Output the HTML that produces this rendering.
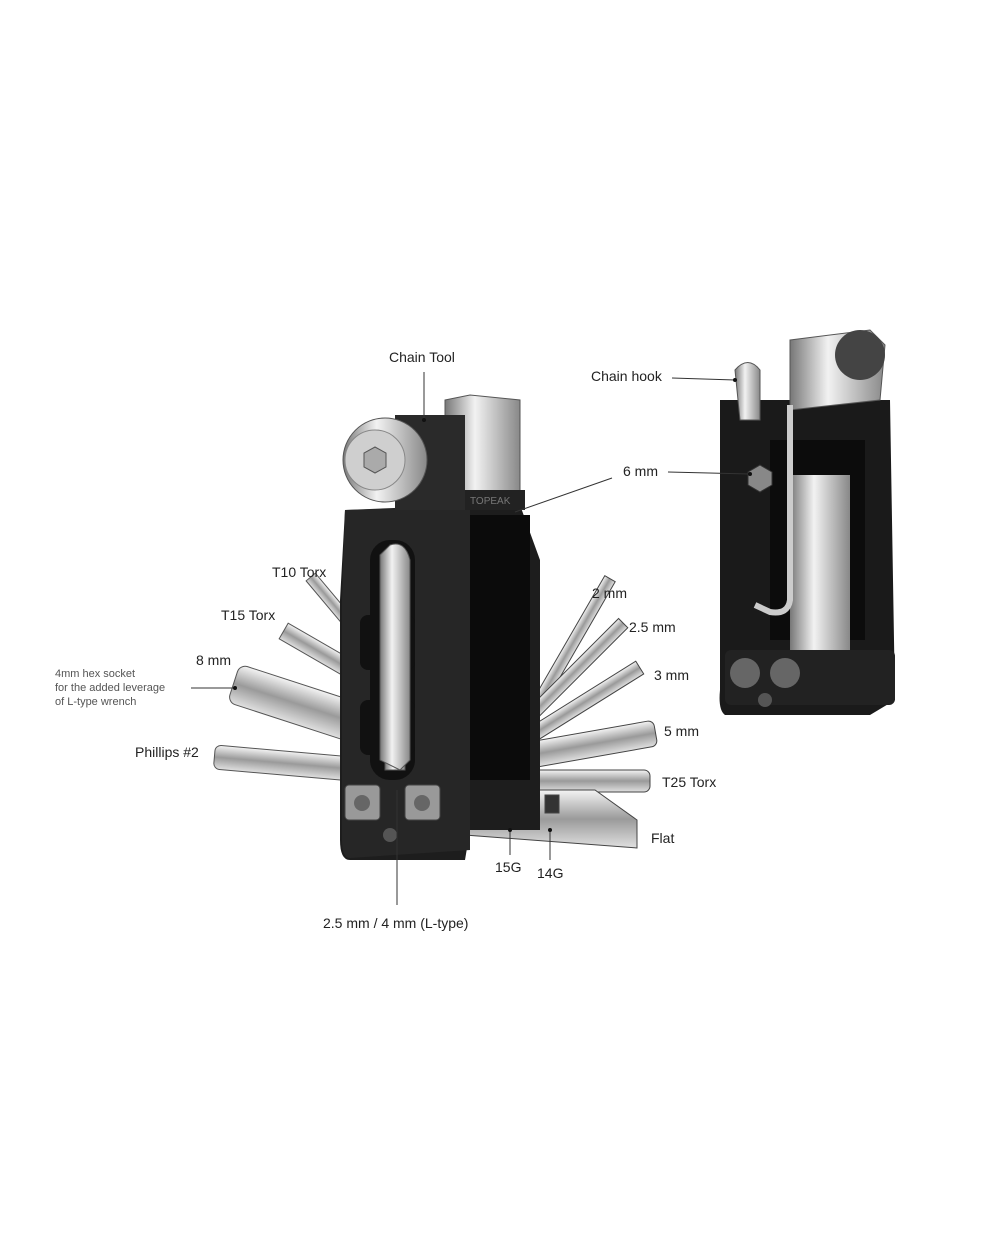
<!DOCTYPE html>
<html><head><meta charset="utf-8"><style>
html,body{margin:0;padding:0;background:#fff;}
svg{display:block}
text{font-family:"Liberation Sans",sans-serif;font-size:14px;fill:#222}
.s{font-size:11px;fill:#555}
</style></head><body>
<svg width="1000" height="1250" viewBox="0 0 1000 1250" xmlns="http://www.w3.org/2000/svg">
<defs>
<linearGradient id="m" x1="0" y1="0" x2="0" y2="1"><stop offset="0" stop-color="#f4f4f4"/><stop offset=".5" stop-color="#9a9a9a"/><stop offset="1" stop-color="#e0e0e0"/></linearGradient>
<linearGradient id="mh" x1="0" y1="0" x2="1" y2="0"><stop offset="0" stop-color="#777"/><stop offset=".4" stop-color="#f2f2f2"/><stop offset="1" stop-color="#888"/></linearGradient>
</defs>
<!-- left fan tools -->
<g stroke="#555" stroke-width="1">
<rect x="300" y="594" width="60" height="12" fill="url(#m)" transform="rotate(50 330 600)"/>
<rect x="285" y="625" width="85" height="18" fill="url(#m)" transform="rotate(30 290 630)"/>
<rect x="235" y="665" width="130" height="40" rx="8" fill="url(#m)" transform="rotate(18 240 680)"/>
<rect x="215" y="745" width="135" height="24" rx="6" fill="url(#m)" transform="rotate(5 215 750)"/>
</g>
<!-- right fan tools -->
<g stroke="#444" stroke-width="1">
<rect x="470" y="590" width="150" height="12" fill="url(#m)" transform="rotate(-60 600 596)"/>
<rect x="475" y="620" width="150" height="13" fill="url(#m)" transform="rotate(-45 620 627)"/>
<rect x="480" y="660" width="160" height="15" fill="url(#m)" transform="rotate(-32 640 668)"/>
<rect x="470" y="720" width="185" height="26" rx="6" fill="url(#m)" transform="rotate(-10 655 730)"/>
<rect x="470" y="770" width="180" height="22" rx="6" fill="url(#m)"/>
<path d="M465 790 L595 790 L637 820 L637 848 L465 835 Z" fill="url(#m)"/>
<rect x="505" y="793" width="14" height="18" fill="#333"/>
<rect x="545" y="795" width="14" height="18" fill="#333"/>
</g>
<!-- main body -->
<path d="M345 510 L520 505 L540 560 L540 830 L470 830 L465 860 L350 860 Q340 860 340 840 L340 600 Z" fill="#1d1d1d"/>
<rect x="410" y="515" width="120" height="265" fill="#0b0b0b"/>
<path d="M345 510 L470 505 L470 850 L350 858 Q342 858 342 840 L342 600 Z" fill="#262626"/>
<rect x="370" y="540" width="45" height="240" rx="20" fill="#111"/>
<path d="M390 545 Q405 545 405 560 L405 770 L385 770 L385 560 Z" fill="url(#mh)" stroke="#555"/>
<rect x="360" y="615" width="55" height="55" rx="8" fill="#111"/>
<rect x="360" y="700" width="55" height="55" rx="8" fill="#111"/>
<path d="M380 555 L380 760 L400 770 L410 760 L410 560 Q405 540 390 545 Z" fill="url(#mh)" stroke="#555"/>
<rect x="345" y="785" width="35" height="35" rx="4" fill="#999" stroke="#444"/><circle cx="362" cy="803" r="8" fill="#666"/>
<rect x="405" y="785" width="35" height="35" rx="4" fill="#999" stroke="#444"/><circle cx="422" cy="803" r="8" fill="#666"/>
<circle cx="390" cy="835" r="7" fill="#555"/>
<!-- chain tool head -->
<path d="M445 400 L470 395 L520 400 L520 505 L445 505 Z" fill="url(#mh)" stroke="#555"/>
<rect x="395" y="415" width="70" height="95" fill="#2a2a2a"/>
<rect x="440" y="420" width="70" height="95" fill="none"/>
<rect x="465" y="490" width="60" height="20" fill="#222"/>
<text x="470" y="504" style="font-size:10px;fill:#777">TOPEAK</text>
<circle cx="385" cy="460" r="42" fill="url(#mh)" stroke="#555"/>
<circle cx="375" cy="460" r="30" fill="#cfcfcf" stroke="#888"/>
<polygon points="375,447 386,453 386,467 375,473 364,467 364,453" fill="#aaa" stroke="#555"/>
<!-- second tool -->
<path d="M720 400 L890 400 L895 700 L870 715 L725 715 Q718 710 720 690 Z" fill="#1a1a1a"/>
<rect x="770" y="440" width="95" height="200" fill="#0c0c0c"/>
<rect x="790" y="475" width="60" height="190" fill="url(#mh)"/>
<path d="M790 340 L870 330 L885 345 L880 400 L790 410 Z" fill="url(#mh)" stroke="#555"/>
<circle cx="860" cy="355" r="25" fill="#444"/>
<path d="M735 370 Q748 355 760 370 L760 420 L740 420 Z" fill="url(#mh)" stroke="#555"/>
<path d="M790 405 L790 600 Q788 615 770 612 L755 605" fill="none" stroke="#ccc" stroke-width="6"/>
<polygon points="760,465 772,472 772,485 760,492 748,485 748,472" fill="#888" stroke="#333"/>
<rect x="725" y="650" width="170" height="55" rx="6" fill="#222"/>
<circle cx="745" cy="673" r="15" fill="#666"/><circle cx="785" cy="673" r="15" fill="#666"/><circle cx="765" cy="700" r="7" fill="#555"/>
<!-- leaders -->
<g stroke="#333" stroke-width="1" fill="none">
<line x1="424" y1="372" x2="424" y2="420"/>
<line x1="672" y1="378" x2="735" y2="380"/>
<line x1="612" y1="478" x2="515" y2="512"/>
<line x1="668" y1="472" x2="750" y2="474"/>
<line x1="191" y1="688" x2="235" y2="688"/>
<line x1="397" y1="790" x2="397" y2="905"/>
<line x1="510" y1="830" x2="510" y2="855"/>
<line x1="550" y1="830" x2="550" y2="860"/>
</g>
<g fill="#111"><circle cx="424" cy="420" r="2"/><circle cx="735" cy="380" r="2"/><circle cx="750" cy="474" r="2"/><circle cx="235" cy="688" r="2"/><circle cx="510" cy="830" r="2"/><circle cx="550" cy="830" r="2"/></g>
<text x="389" y="362">Chain Tool</text>
<text x="591" y="381">Chain hook</text>
<text x="623" y="476">6 mm</text>
<text x="272" y="577">T10 Torx</text>
<text x="221" y="620">T15 Torx</text>
<text x="196" y="665">8 mm</text>
<text class="s" x="55" y="677">4mm hex socket</text>
<text class="s" x="55" y="691">for the added leverage</text>
<text class="s" x="55" y="705">of L-type wrench</text>
<text x="135" y="757">Phillips #2</text>
<text x="592" y="598">2 mm</text>
<text x="629" y="632">2.5 mm</text>
<text x="654" y="680">3 mm</text>
<text x="664" y="736">5 mm</text>
<text x="662" y="787">T25 Torx</text>
<text x="651" y="843">Flat</text>
<text x="495" y="872">15G</text>
<text x="537" y="878">14G</text>
<text x="323" y="928">2.5 mm / 4 mm (L-type)</text>
</svg>
</body></html>
